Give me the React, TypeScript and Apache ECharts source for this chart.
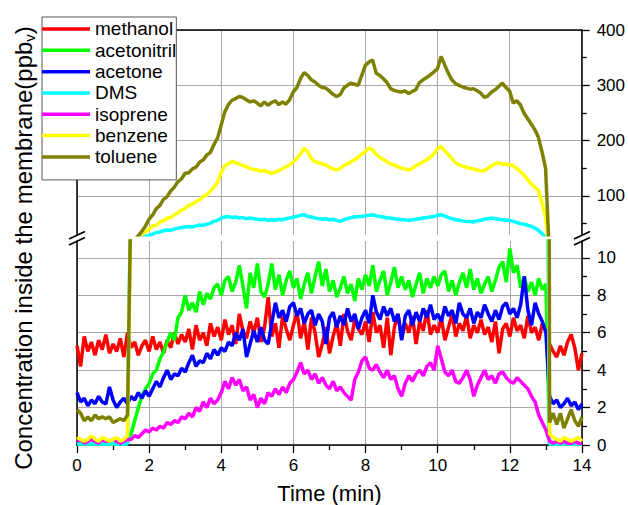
import React, { useEffect, useRef } from 'react';
import * as echarts from 'echarts';

const time: number[] = Array.from({ length: 141 }, (_, i) => i / 10);

const methanol = [
  5.3, 4.2, 5.8, 5.0, 5.5, 4.8, 5.6, 5.1, 5.9, 4.9,
  5.4, 5.0, 5.7, 4.7, 6.0, 5.2, 5.5, 4.8, 5.3, 5.6,
  5.0, 5.8, 5.1, 5.5, 4.9, 5.6, 5.2, 6.0, 5.4, 5.9,
  5.5, 6.2, 5.1, 6.4, 5.6, 6.0, 5.3, 6.5, 5.8, 6.3,
  5.6, 6.7, 5.9, 6.4, 5.4, 7.0, 6.1, 5.7, 6.6, 6.0,
  6.8, 5.5, 6.3, 7.9, 5.8, 6.5, 5.2, 6.9, 6.2, 5.6,
  6.4, 7.1, 5.7, 6.6, 5.1, 6.8, 6.0, 4.7, 5.4, 6.3,
  4.9, 5.8, 6.5, 5.3, 7.0, 6.1, 5.6, 6.7, 6.2, 5.9,
  6.6, 5.5, 7.1, 6.0, 6.4, 5.2, 6.8, 4.8, 6.3, 7.0,
  5.7, 6.5, 6.0, 6.9, 5.4, 6.6, 6.1, 7.2, 5.9, 6.4,
  6.0, 6.8, 5.6, 6.3, 7.0, 5.8, 6.5, 6.1, 6.9, 5.7,
  6.4, 6.0, 6.7, 5.9, 6.3, 5.5, 6.6, 4.9, 6.2, 6.5,
  5.8, 6.8, 6.1, 6.4, 5.7, 6.9, 6.0, 6.3, 5.6, 6.5,
  6.1, 5.4, 5.0, 4.7, 5.3, 4.8, 5.5, 5.9, 5.2, 4.0,
  4.9,
];

const acetonitril = [
  0.05, 0.05, 0.05, 0.05, 0.05, 0.05, 0.05, 0.05, 0.05, 0.05,
  0.05, 0.05, 0.05, 0.05, 0.2, 0.6, 1.3, 2.0, 2.6, 3.0,
  3.3, 3.8, 4.0, 4.6, 5.0, 5.5, 6.0, 5.6, 6.8, 7.1,
  8.0, 7.2, 7.6, 7.1, 8.2, 7.5, 8.1, 7.8, 8.4, 8.6,
  8.0, 8.8, 9.0, 8.2, 8.7, 9.6, 8.5, 7.3, 9.2, 8.4,
  9.7, 8.2, 7.9, 8.6, 9.7, 8.3, 9.1, 8.0, 8.8, 9.3,
  8.4, 8.9, 7.8, 8.6, 9.2, 8.1, 9.0, 9.8, 8.5, 9.4,
  8.2, 8.8, 7.9, 8.4, 9.0, 8.1, 8.6, 7.7, 8.9, 8.3,
  9.1, 8.5, 9.6, 8.2, 8.8, 9.3, 8.0, 8.7, 9.5, 8.4,
  9.0, 8.3, 8.8, 7.9, 8.6, 9.2, 8.1, 8.9, 8.4, 9.0,
  8.5, 9.1, 9.3, 8.2, 8.8, 8.0, 8.7, 9.2, 8.4, 9.4,
  8.3, 8.9, 8.1, 8.6, 9.0, 8.2, 8.8, 9.5, 9.8, 8.7,
  10.5, 9.2, 9.6, 8.4, 9.0, 8.2, 8.7, 8.0, 8.9, 8.3,
  8.6, 0.05, 0.05, 0.05, 0.05, 0.05, 0.05, 0.05, 0.05, 0.05,
  0.05,
];

const acetone = [
  2.8, 2.3, 2.5, 2.1, 2.4, 2.2, 2.6, 2.3, 2.2, 3.1,
  2.4, 2.0, 2.3, 2.5, 2.2, 2.6, 2.4, 2.8, 2.5, 2.9,
  2.6, 3.0, 3.4, 3.1, 3.6, 4.0, 3.5, 3.8, 3.7, 4.1,
  3.9, 4.4, 4.8, 4.2, 4.5, 4.4, 4.9, 4.6, 5.1, 4.8,
  5.2, 5.0, 5.5, 5.3, 6.0, 5.6, 6.2, 4.7, 5.4, 6.1,
  5.5, 6.3, 5.6, 5.4, 6.5, 7.6, 6.8, 7.2, 6.6, 7.4,
  7.6, 6.9, 7.3, 6.5, 7.0, 7.2, 6.4, 7.0, 6.6, 5.4,
  6.8, 7.1, 6.3, 6.9, 6.4, 7.3, 6.6, 7.0, 6.2, 6.8,
  7.2, 6.5, 8.0, 7.1, 6.7, 7.4, 6.9, 7.3, 6.6, 7.0,
  5.6, 6.9, 7.2, 6.4, 7.1, 6.6, 7.3, 6.8, 7.5, 6.7,
  7.0, 6.6, 7.4, 6.9, 7.2, 6.5, 7.6, 7.0, 6.8, 7.3,
  6.5, 7.1, 6.8, 7.5, 7.0, 6.6, 7.2, 6.7, 7.4, 7.6,
  7.0, 7.3, 6.8, 7.5, 9.0, 7.2, 6.4, 7.6, 7.0, 6.6,
  6.0, 2.6, 2.2, 2.4, 2.0, 2.2, 2.5, 2.1, 2.3, 1.9,
  2.2,
];

const dms = [
  0.05, 0.05, 0.05, 0.05, 0.05, 0.05, 0.05, 0.05, 0.05, 0.05,
  0.05, 0.05, 0.05, 0.05, 0.05, 16, 20, 23, 25, 27,
  28.5, 31, 34, 35, 37, 38.5, 38, 40, 42, 43,
  44, 45, 44, 46, 47.5, 47, 49, 51, 54, 56,
  60, 62, 63, 61, 62, 60, 61, 59, 60, 59,
  58, 57, 58, 56, 57, 56, 58, 57, 59, 60,
  62, 63, 65, 66, 63, 62, 60, 59, 58, 59,
  57, 58, 56, 54, 57, 59, 61, 62, 63, 63,
  64, 65, 66, 64, 63, 62, 60, 60, 59, 58,
  57, 57, 56, 57, 58, 59, 60, 61, 62, 63,
  65, 66, 64, 61, 59, 57, 56, 55, 54, 54,
  53, 55, 56, 58, 59, 60, 59, 58, 57, 56,
  56, 54, 52, 50, 49, 47, 45, 42, 38, 32,
  25, 0.05, 0.05, 0.05, 0.05, 0.05, 0.05, 0.05, 0.05, 0.05,
  0.05,
];

const isoprene = [
  0.2, 0.3, 0.1, 0.2, 0.3, 0.2, 0.1, 0.3, 0.2, 0.2,
  0.3, 0.2, 0.1, 0.2, 0.3, 0.3, 0.5, 0.4, 0.6, 0.8,
  0.7, 0.9, 0.8, 1.0, 0.9, 1.2, 1.1, 1.3, 1.2, 1.5,
  1.4, 1.7, 1.5, 2.0, 1.8, 2.3, 2.0, 2.5, 2.2, 2.4,
  2.8, 3.4, 3.0, 3.6, 3.2, 3.5, 2.9, 3.1, 2.4, 2.7,
  2.0, 2.5, 2.2, 2.8, 2.6, 3.0, 2.7, 3.1, 2.8, 3.3,
  3.5, 3.9, 4.4, 3.8, 4.0, 3.5, 3.8, 3.3, 3.6, 3.2,
  3.0, 3.4, 2.9, 3.1, 2.8, 2.6, 2.4, 3.5, 3.9, 4.5,
  4.7, 4.1, 4.0, 4.3, 3.9, 3.6, 4.0, 3.5, 3.7, 3.0,
  2.6, 3.3, 3.7, 3.4, 3.8, 4.0, 3.7, 4.2, 4.4, 4.0,
  5.3, 4.6, 3.9, 3.7, 4.0, 3.4, 3.3, 3.6, 4.0, 3.5,
  2.6, 3.2, 3.6, 4.0, 3.5, 3.7, 3.3, 3.8, 3.9, 3.6,
  3.4, 3.3, 3.6, 3.4, 3.2, 3.0, 2.6, 2.3, 1.6, 1.2,
  0.8, 0.2, 0.1, 0.2, 0.1, 0.2, 0.1, 0.1, 0.2, 0.1,
  0.1,
];

const benzene = [
  0.4, 0.3, 0.2, 0.3, 0.5, 0.3, 0.2, 0.4, 0.3, 0.2,
  0.3, 0.4, 0.2, 0.3, 0.5, 14, 20, 25, 31, 35,
  40, 46, 47, 53, 55, 60, 61, 66, 69, 75,
  77, 83, 85, 90, 93, 99, 102, 109, 116, 125,
  142, 155, 158, 163, 160, 158, 155, 153, 150, 148,
  147, 145, 146, 143, 141, 143, 146, 149, 153, 156,
  162, 168, 176, 186, 180, 168, 162, 160, 158, 156,
  152, 149, 147, 150, 155, 158, 162, 165, 170, 176,
  180, 187, 183, 175, 170, 166, 162, 158, 156, 153,
  150, 149, 147, 150, 155, 158, 162, 165, 170, 176,
  185, 190, 182, 175, 168, 160, 156, 154, 152, 150,
  149, 147, 145, 146, 150, 155, 158, 160, 157, 158,
  156, 155, 150, 144, 138, 130, 122, 116, 110, 88,
  62, 0.6, 0.4, 0.3, 0.2, 0.4, 0.3, 0.2, 0.3, 0.4,
  0.2,
];

const toluene = [
  1.9, 1.7, 1.3, 1.5, 1.3, 1.6, 1.4, 1.5, 1.4, 1.5,
  1.2, 1.3, 1.4, 1.3, 1.6, 14, 22, 28, 36, 46,
  58, 66, 77, 83, 94, 99, 109, 116, 126, 131,
  141, 142, 149, 152, 161, 165, 174, 179, 193, 205,
  228, 252, 265, 273, 276, 280, 278, 274, 270, 272,
  268, 263, 270, 264, 269, 272, 265, 270, 266, 274,
  288, 296, 312, 323, 318, 310, 306, 300, 296, 295,
  290, 284, 280, 283, 295, 300, 304, 302, 300, 318,
  336, 342, 346, 322, 318, 312, 305, 294, 291, 289,
  288, 290, 285, 289, 292, 305, 310, 314, 319, 324,
  330, 352, 337, 322, 310, 303, 300, 297, 295, 293,
  294, 290, 286, 278, 281, 288, 292, 298, 304, 296,
  290, 268, 272, 265, 250, 240, 230, 220, 206, 180,
  150, 1.2, 1.7, 1.1, 1.7, 0.9, 1.4, 1.9, 1.3, 1.0,
  1.5,
];

const seriesNames = ['methanol', 'acetonitril', 'acetone', 'DMS', 'isoprene', 'benzene', 'toluene'];
const seriesValues = [methanol, acetonitril, acetone, dms, isoprene, benzene, toluene];
const seriesColors = ['#ff0000', '#00ff00', '#0000ff', '#00ffff', '#ff00ff', '#ffff00', '#808000'];

const lowerTicks = [0, 2, 4, 6, 8, 10];
const lowerMinorTicks = [1, 3, 5, 7, 9];
const upperTicks = [100, 200, 300, 400];
const upperMinorTicks = [50, 150, 250, 350];

const FONT = 'Liberation Sans, Arial, sans-serif';

export default function App() {
  const ref = useRef<HTMLDivElement>(null);

  useEffect(() => {
    document.body.style.margin = '0';
    if (!ref.current) return;
    const chart = echarts.init(ref.current, undefined, { renderer: 'svg' });

    const axisBlack = { color: '#000', width: 1.5 };
    const gridGray = { color: '#a8a8a8', width: 1 };

    const makeY = (grid: number, min: number, max: number, ticks: number[] | null, minor: number[] | null, pos: string) => ({
      type: 'value',
      gridIndex: grid,
      position: pos,
      min,
      max,
      axisLine: { show: !minor, onZero: false, lineStyle: axisBlack },
      axisTick: ticks
        ? { show: true, inside: false, length: 8, customValues: ticks, lineStyle: { color: '#000', width: 1.3 } }
        : minor
        ? { show: true, inside: false, length: 5, customValues: minor, lineStyle: { color: '#000', width: 1.3 } }
        : { show: false },
      axisLabel: ticks
        ? { show: true, customValues: ticks, margin: 15, fontSize: 17, color: '#000', fontFamily: FONT }
        : { show: false },
      splitLine: ticks ? { show: true, lineStyle: gridGray } : { show: false },
    });

    const series: any[] = [];
    seriesNames.forEach((name, k) => {
      const data = time.map((t, i) => [t, seriesValues[k][i]]);
      const common = {
        type: 'line',
        name,
        data,
        showSymbol: false,
        symbol: 'none',
        clip: true,
        color: seriesColors[k],
        lineStyle: { color: seriesColors[k], width: 3.5 },
        z: 2 + k,
      };
      series.push({ ...common, xAxisIndex: 0, yAxisIndex: 0 });
      series.push({ ...common, xAxisIndex: 1, yAxisIndex: 3 });
    });

    const breakMark = (cx: number) => [
      { type: 'line', shape: { x1: cx - 8, y1: 239, x2: cx + 8, y2: 231.5 }, style: { stroke: '#000', lineWidth: 1.6 }, z: 20 },
      { type: 'line', shape: { x1: cx - 8, y1: 245, x2: cx + 8, y2: 237.5 }, style: { stroke: '#000', lineWidth: 1.6 }, z: 20 },
    ];

    chart.setOption({
      animation: false,
      backgroundColor: '#fff',
      textStyle: { fontFamily: FONT },
      grid: [
        { left: 77, right: 46, top: 241, bottom: 60 },
        { left: 77, right: 46, top: 30, bottom: 270.3 },
      ],
      xAxis: [
        {
          type: 'value',
          gridIndex: 0,
          position: 'bottom',
          min: 0,
          max: 14,
          interval: 2,
          axisLine: { show: true, onZero: false, lineStyle: axisBlack },
          axisTick: { show: true, inside: false, length: 8, lineStyle: { color: '#000', width: 1.3 } },
          minorTick: { show: true, splitNumber: 2, length: 5, lineStyle: { color: '#000', width: 1.3 } },
          axisLabel: { fontSize: 17, color: '#000', margin: 12, fontFamily: FONT },
          splitLine: { show: true, lineStyle: gridGray },
          name: 'Time (min)',
          nameLocation: 'middle',
          nameGap: 37,
          nameTextStyle: { fontSize: 22, color: '#000', fontFamily: FONT },
        },
        {
          type: 'value',
          gridIndex: 1,
          position: 'top',
          min: 0,
          max: 14,
          interval: 2,
          axisLine: { show: true, onZero: false, lineStyle: axisBlack },
          axisTick: { show: false },
          axisLabel: { show: false },
          splitLine: { show: true, lineStyle: gridGray },
        },
      ],
      yAxis: [
        makeY(0, 0, 10.9, lowerTicks, null, 'right'),
        makeY(0, 0, 10.9, null, lowerMinorTicks, 'right'),
        makeY(0, 0, 10.9, null, null, 'left'),
        makeY(1, 30, 400, upperTicks, null, 'right'),
        makeY(1, 30, 400, null, upperMinorTicks, 'right'),
        makeY(1, 30, 400, null, null, 'left'),
      ],
      legend: {
        data: seriesNames,
        orient: 'vertical',
        left: 42,
        top: 17,
        padding: [1.3, 0, 12.3, 0],
        itemGap: 0,
        itemWidth: 48,
        itemHeight: 3.5,
        icon: 'rect',
        backgroundColor: '#fff',
        borderColor: '#555',
        borderWidth: 1,
        borderRadius: 0,
        z: 30,
        selectedMode: false,
        textStyle: { fontSize: 19, color: '#000', fontFamily: FONT, lineHeight: 21.33, padding: [0, 0, 0, 0] },
      },
      graphic: [
        ...breakMark(77),
        ...breakMark(582),
        {
          type: 'text',
          x: 23,
          y: 248,
          rotation: Math.PI / 2,
          z: 20,
          style: {
            text: 'Concentration inside the membrane(ppb{s|v})',
            fontSize: 24,
            fontFamily: FONT,
            fill: '#000',
            align: 'center',
            verticalAlign: 'middle',
            lineHeight: 27,
            rich: {
              s: { fontSize: 15, lineHeight: 15, verticalAlign: 'bottom', fontFamily: FONT, fill: '#000' },
            },
          },
        },
      ],
      series,
    });

    return () => {
      chart.dispose();
    };
  }, []);

  return <div ref={ref} style={{ width: 628, height: 505 }} />;
}
